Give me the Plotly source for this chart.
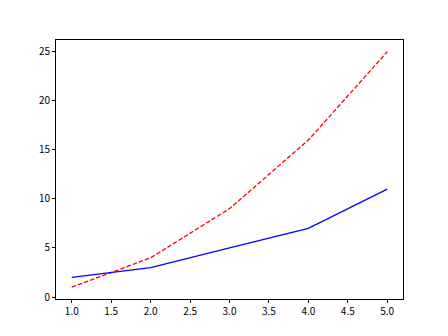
import plotly.graph_objects as go

x = [1, 2, 3, 4, 5]
y_square = [1, 4, 9, 16, 25]
y_prime = [2, 3, 5, 7, 11]
x_ticks = [1.0, 1.5, 2.0, 2.5, 3.0, 3.5, 4.0, 4.5, 5.0]
y_ticks = [0, 5, 10, 15, 20, 25]

fig = go.Figure()
fig.add_trace(go.Scatter(x=x, y=y_square, mode="lines",
                         line=dict(color="red", width=1.3, dash="4.5px,2px")))
fig.add_trace(go.Scatter(x=x, y=y_prime, mode="lines",
                         line=dict(color="blue", width=1.3)))

axis_common = dict(showgrid=False, zeroline=False, showline=True, linecolor="black",
                   linewidth=0.8, mirror=True, ticks="outside", ticklen=3,
                   tickwidth=0.8, tickcolor="black",
                   tickfont=dict(family="Noto Sans CJK SC", size=10, color="black"))
fig.update_xaxes(range=[0.8, 5.2], tickvals=x_ticks,
                 ticktext=[f"{v:.1f}" for v in x_ticks], **axis_common)
fig.update_yaxes(range=[-0.2, 26.2], tickvals=y_ticks,
                 ticktext=[str(v) for v in y_ticks], **axis_common)
fig.update_layout(width=448, height=336, showlegend=False,
                  margin=dict(l=56, r=45, t=40, b=37),
                  plot_bgcolor="white", paper_bgcolor="white")
fig.write_html("out.html")
